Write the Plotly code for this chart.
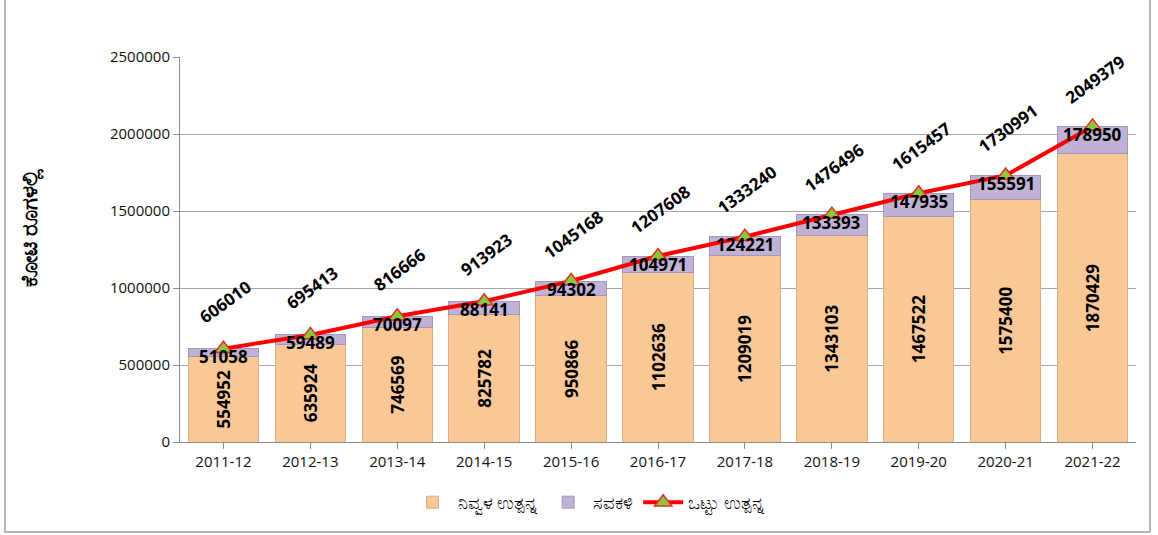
import plotly.graph_objects as go

years = ["2011-12", "2012-13", "2013-14", "2014-15", "2015-16", "2016-17",
         "2017-18", "2018-19", "2019-20", "2020-21", "2021-22"]
net_product = [554952, 635924, 746569, 825782, 950866, 1102636,
               1209019, 1343103, 1467522, 1575400, 1870429]
depreciation = [51058, 59489, 70097, 88141, 94302, 104971,
                124221, 133393, 147935, 155591, 178950]
total_product = [606010, 695413, 816666, 913923, 1045168, 1207608,
                 1333240, 1476496, 1615457, 1730991, 2049379]

name_net = "ನಿವ್ವಳ ಉತ್ಪನ್ನ"
name_dep = "ಸವಕಳಿ"
name_tot = "ಒಟ್ಟು ಉತ್ಪನ್ನ"
y_title = "ಕೋಟಿ ರೂಗಳಲ್ಲಿ"

W, H = 1158, 535
L, R, T, B = 180, 22, 57, 93
PW, PH = W - L - R, H - T - B

num_font = dict(family="Open Sans, sans-serif", size=17, color="black", weight="bold")

fig = go.Figure()
fig.add_trace(go.Bar(
    x=years, y=net_product, name=name_net,
    marker=dict(color="#FAC797", line=dict(color="#D8AE86", width=1)),
    text=[str(v) for v in net_product], textposition="inside",
    insidetextanchor="middle", textangle=-90,
    textfont=num_font, hoverinfo="x+y",
))
fig.add_trace(go.Bar(
    x=years, y=depreciation, name=name_dep,
    marker=dict(color="#BFB2D5", line=dict(color="#A497BC", width=1)),
))
fig.add_trace(go.Scatter(
    x=years, y=total_product, name=name_tot, mode="lines+markers",
    line=dict(color="#FF0000", width=4),
    marker=dict(symbol="triangle-up", size=15, color="#8DC63F",
                line=dict(color="#E03020", width=1.5)),
))

# depreciation labels near the top of each stacked bar
for x, v, t in zip(years, depreciation, total_product):
    fig.add_annotation(x=x, y=t, text=str(v), showarrow=False,
                       yanchor="middle", yshift=-8,
                       font=num_font)

# total labels, rotated, above the line
for x, v in zip(years, total_product):
    fig.add_annotation(x=x, y=v, text=str(v), showarrow=False,
                       textangle=-36, yshift=47, xshift=2,
                       font=num_font)

# y-axis title as rotated annotation
fig.add_annotation(xref="paper", yref="paper",
                   x=(28 - L) / PW, y=(H - B - 228) / PH,
                   text=f"<b>{y_title}</b>", showarrow=False, textangle=-90,
                   xanchor="center", yanchor="middle",
                   font=dict(family="Noto Sans, sans-serif", size=22, color="black"))

fig.update_layout(
    width=W, height=H,
    barmode="stack", bargap=0.19,
    plot_bgcolor="white", paper_bgcolor="white",
    margin=dict(l=L, r=R, t=T, b=B),
    showlegend=True,
    legend=dict(orientation="h", x=(589 - L) / PW, xanchor="center",
                y=-(42) / PH, yanchor="top",
                font=dict(family="Noto Sans, sans-serif", size=18, color="black"),
                traceorder="normal", itemwidth=40),
    xaxis=dict(type="category", range=[-0.5, len(years) - 0.5],
               showline=True, linecolor="#8C8C8C", ticks="outside",
               tickcolor="#8C8C8C", ticklen=6, showgrid=False,
               tickfont=dict(family="Open Sans, sans-serif", size=15, color="#111111")),
    yaxis=dict(range=[0, 2500000], dtick=500000, showline=True, linecolor="#8C8C8C",
               ticks="outside", tickcolor="#8C8C8C", ticklen=6, gridcolor="#A6A6A6",
               tickformat="d",
               tickfont=dict(family="Open Sans, sans-serif", size=15, color="#111111")),
)
# frame around the chart (left, bottom, right)
x_left, x_right = (5 - L) / PW, (1150 - L) / PW
y_bot, y_top = -(532 - (H - B)) / PH, (H - B) / PH
fig.add_shape(type="path", xref="paper", yref="paper",
              path=f"M {x_left} {y_top} L {x_left} {y_bot} L {x_right} {y_bot} L {x_right} {y_top}",
              line=dict(color="#A0A0A0", width=1.5))

fig.write_html("out.html", config={"displayModeBar": False},
               post_script="document.body.style.margin='0px';")
